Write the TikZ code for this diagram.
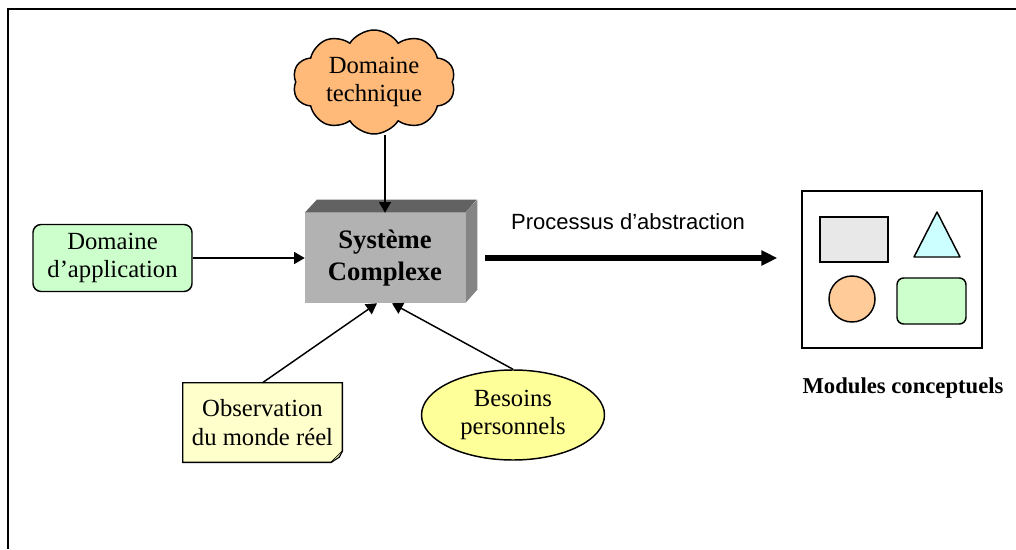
\documentclass[tikz,border=0pt]{standalone}
\usepackage{fontspec}
\setmainfont{Liberation Serif}
\setsansfont{Liberation Sans}
\usetikzlibrary{shapes.symbols,shapes.geometric,arrows.meta,calc}
\definecolor{cloudorange}{HTML}{FFB978}
\definecolor{palegreen}{HTML}{CCFFCC}
\definecolor{paleyellow}{HTML}{FFFFCC}
\definecolor{lemon}{HTML}{FFFF99}
\definecolor{foldtan}{HTML}{D8D8A8}
\definecolor{boxfront}{HTML}{B2B2B2}
\definecolor{boxtop}{HTML}{626262}
\definecolor{boxside}{HTML}{858585}
\definecolor{lightgrey}{HTML}{E8E8E8}
\definecolor{palecyan}{HTML}{CCFFFF}
\definecolor{peach}{HTML}{FFCC99}
\begin{document}
\begin{tikzpicture}[x=0.75pt,y=-0.75pt,
  txt/.style={font=\fontsize{18.5}{21.5}\selectfont, align=center, inner sep=0pt},
  outline/.style={draw=black, line width=1.1pt},
  link/.style={line width=1.1pt, -{Triangle[length=8pt,width=9pt]}},
  bigarrow/.style={line width=3.8pt, -{Triangle[length=12pt,width=11pt]}},
  shapeitem/.style={outline, inner sep=0pt}]
\useasboundingbox (0,0) rectangle (1016,549);
% frame
\draw[line width=1.5pt] (8,549) -- (8,9) -- (1016,9);

% central 3D block
\node[fill=boxfront, minimum width=120pt, minimum height=67.5pt, inner sep=0pt,
      font=\bfseries\fontsize{20}{24}\selectfont, align=center]
  (box) at (385,258) {Système\\Complexe};
\fill[boxtop] (box.north west) -- ++(12,-13) -- ++(160,0) -- (box.north east) -- cycle;
\fill[boxside] (box.north east) -- ++(12,-13) -- ++(0,90) -- (box.south east) -- cycle;

% cloud
\node[cloud, cloud puffs=10, cloud puff arc=115, aspect=1.75, outline, fill=cloudorange,
      minimum width=122pt, minimum height=78pt, inner sep=0pt, txt]
  (tech) at (374,82) {Domaine\\technique};

% application domain
\node[outline, fill=palegreen, rounded corners=6pt, minimum width=119.25pt,
      minimum height=50.25pt, txt] (app) at (112.5,258) {Domaine\\d’application};

% note with folded corner
\node[minimum width=119.25pt, minimum height=59.25pt, txt] (obs) at (262.5,422.5)
  {Observation\\du monde réel};
\draw[outline, fill=paleyellow] (obs.north west) -- (obs.north east)
  -- ($(obs.south east)+(0,-11)$) -- ($(obs.south east)+(-11,0)$) -- (obs.south west) -- cycle;
\fill[foldtan] ($(obs.south east)+(0,-11)$) -- ($(obs.south east)+(-11,0)$) -- ($(obs.south east)+(-3,-5)$) -- cycle;
\draw[line width=0.8pt] ($(obs.south east)+(0,-11)$) -- ($(obs.south east)+(-3,-5)$) -- ($(obs.south east)+(-11,0)$);
\node[txt] at (obs) {Observation\\du monde réel};

% personal needs
\node[ellipse, outline, fill=lemon, minimum width=137.25pt, minimum height=67.5pt, txt]
  (needs) at (513,415) {Besoins\\personnels};

% conceptual modules
\node[outline, minimum width=135pt, minimum height=117.75pt] (mod) at (892,269.5) {};
\node[shapeitem, fill=lightgrey, minimum width=51pt, minimum height=33.75pt] (mrect) at (854,239.5) {};
\coordinate (tA) at (937,212);
\coordinate (tB) at (960,257);
\coordinate (tC) at (914,257);
\draw[outline, fill=palecyan, line join=round] (tA) -- (tB) -- (tC) -- cycle;
\node[shapeitem, circle, fill=peach, minimum size=34.5pt] (mcirc) at (852,299) {};
\node[shapeitem, fill=palegreen, rounded corners=5pt, minimum width=51.75pt, minimum height=34.5pt] (mround) at (931.5,301) {};
\node[font=\bfseries\fontsize{17}{20}\selectfont, inner sep=0pt] (modlabel) at (903,388) {Modules conceptuels};

% connectors
\draw[link] (box.north |- tech.south) -- (box.north);
\draw[link] (app.east) -- (box.west);
\draw[link] (obs.north) -- ($(box.south)+(-8,0)$);
\draw[link] (needs.north) -- ($(box.south)+(7,0)$);
\coordinate (arrowend) at ($(box.east -| mod.west)+(-24,0)$);
\draw[bigarrow] ($(box.east)+(20,0)$) -- (arrowend);
\node[font=\sffamily\fontsize{16.5}{20}\selectfont, inner sep=0pt] (abstr) at (628,222) {Processus d’abstraction};
\end{tikzpicture}
\end{document}
